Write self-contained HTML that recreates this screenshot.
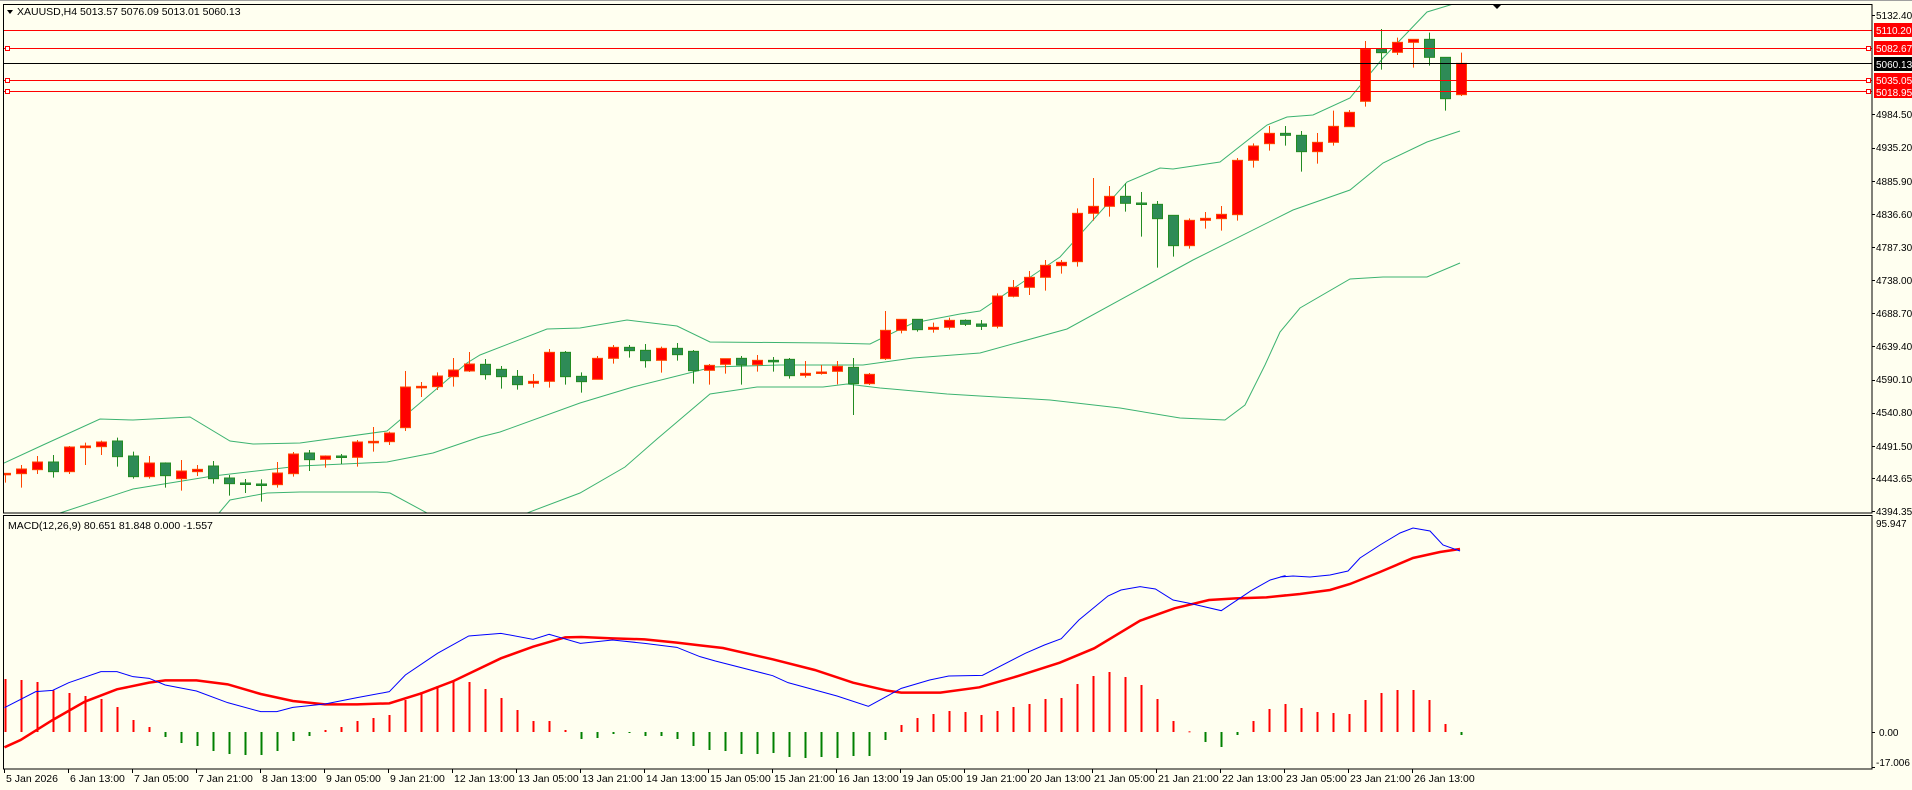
<!DOCTYPE html>
<html><head><meta charset="utf-8">
<style>
html,body{margin:0;padding:0;background:#fffff0;}
body{width:1912px;height:790px;overflow:hidden;position:relative;font-family:"Liberation Sans",sans-serif;}
svg{position:absolute;left:0;top:0;}
text{font-family:"Liberation Sans",sans-serif;font-size:10.5px;fill:#000;}
.ax{font-size:10px;}
</style></head><body>
<svg id="s" width="1912" height="790" viewBox="0 0 1912 790" xmlns="http://www.w3.org/2000/svg">
<rect x="0" y="0" width="1912" height="790" fill="#fffff0"/>
<line x1="0" y1="0.5" x2="1912" y2="0.5" stroke="#a0a0a0" stroke-width="1"/>
<g id="plot"></g>
<line x1="4" y1="30.5" x2="1872" y2="30.5" stroke="#ff0000" stroke-width="1"/>
<line x1="4" y1="48.5" x2="1872" y2="48.5" stroke="#ff0000" stroke-width="1"/>
<line x1="4" y1="63.5" x2="1872" y2="63.5" stroke="#000" stroke-width="1"/>
<line x1="4" y1="80.5" x2="1872" y2="80.5" stroke="#ff0000" stroke-width="1"/>
<line x1="4" y1="91.5" x2="1872" y2="91.5" stroke="#ff0000" stroke-width="1"/>
<g fill="#fff" stroke="#ff0000" stroke-width="1">
<rect x="5.5" y="46.5" width="4" height="4"/><rect x="5.5" y="78.5" width="4" height="4"/><rect x="5.5" y="89.5" width="4" height="4"/>
<rect x="1866.5" y="46.5" width="4" height="4"/><rect x="1866.5" y="78.5" width="4" height="4"/><rect x="1866.5" y="89.5" width="4" height="4"/>
</g>
<rect x="3.5" y="4.5" width="1868.5" height="508.5" fill="none" stroke="#000" stroke-width="1"/>
<rect x="3.5" y="515.5" width="1868.5" height="253.5" fill="none" stroke="#000" stroke-width="1"/>
<polygon points="1492,4 1502,4 1497,9" fill="#000"/>
<polygon points="7,10 13,10 10,14" fill="#000"/>
<text x="17" y="15">XAUUSD,H4  5013.57 5076.09 5013.01 5060.13</text>
<text x="8" y="529">MACD(12,26,9) 80.651 81.848 0.000 -1.557</text>
<g stroke="#000" stroke-width="1" id="ticks"></g>
<g class="ax">
<text class="ax" x="1876" y="19">5132.40</text>
<text class="ax" x="1876" y="118">4984.50</text>
<text class="ax" x="1876" y="151">4935.20</text>
<text class="ax" x="1876" y="185">4885.90</text>
<text class="ax" x="1876" y="218">4836.60</text>
<text class="ax" x="1876" y="251">4787.30</text>
<text class="ax" x="1876" y="284">4738.00</text>
<text class="ax" x="1876" y="317">4688.70</text>
<text class="ax" x="1876" y="350">4639.40</text>
<text class="ax" x="1876" y="383">4590.10</text>
<text class="ax" x="1876" y="416">4540.80</text>
<text class="ax" x="1876" y="450">4491.50</text>
<text class="ax" x="1876" y="482">4443.65</text>
<text class="ax" x="1876" y="515">4394.35</text>
</g>
<rect x="1874" y="23" width="38" height="14" fill="#ff0000"/><text class="ax" x="1876" y="34" style="fill:#fff">5110.20</text>
<rect x="1874" y="41" width="38" height="14" fill="#ff0000"/><text class="ax" x="1876" y="52" style="fill:#fff">5082.67</text>
<rect x="1874" y="57" width="38" height="14" fill="#000"/><text class="ax" x="1876" y="68" style="fill:#fff">5060.13</text>
<rect x="1874" y="73" width="38" height="13" fill="#ff0000"/><text class="ax" x="1876" y="84" style="fill:#fff">5035.05</text>
<rect x="1874" y="86" width="38" height="12" fill="#ff0000"/><text class="ax" x="1876" y="96" style="fill:#fff">5018.95</text>
<text class="ax" x="1876" y="527">95.947</text>
<text class="ax" x="1879" y="736">0.00</text>
<text class="ax" x="1876" y="766">-17.006</text>
<g id="tl">
<text x="6" y="782">5 Jan 2026</text>
<text x="70" y="782">6 Jan 13:00</text>
<text x="134" y="782">7 Jan 05:00</text>
<text x="198" y="782">7 Jan 21:00</text>
<text x="262" y="782">8 Jan 13:00</text>
<text x="326" y="782">9 Jan 05:00</text>
<text x="390" y="782">9 Jan 21:00</text>
<text x="454" y="782">12 Jan 13:00</text>
<text x="518" y="782">13 Jan 05:00</text>
<text x="582" y="782">13 Jan 21:00</text>
<text x="646" y="782">14 Jan 13:00</text>
<text x="710" y="782">15 Jan 05:00</text>
<text x="774" y="782">15 Jan 21:00</text>
<text x="838" y="782">16 Jan 13:00</text>
<text x="902" y="782">19 Jan 05:00</text>
<text x="966" y="782">19 Jan 21:00</text>
<text x="1030" y="782">20 Jan 13:00</text>
<text x="1094" y="782">21 Jan 05:00</text>
<text x="1158" y="782">21 Jan 21:00</text>
<text x="1222" y="782">22 Jan 13:00</text>
<text x="1286" y="782">23 Jan 05:00</text>
<text x="1350" y="782">23 Jan 21:00</text>
<text x="1414" y="782">26 Jan 13:00</text>
</g>
</svg>
<script>
(function(){
var NS="http://www.w3.org/2000/svg",P=document.getElementById("plot"),T=document.getElementById("ticks");
function el(n,a,p){var e=document.createElementNS(NS,n);for(var k in a)e.setAttribute(k,a[k]);(p||P).appendChild(e);return e;}
[15,114,148,181,214,247,280,313,346,380,413,446,478,511,732,767].forEach(function(y){el("line",{x1:1872,y1:y+.5,x2:1875,y2:y+.5},T);});
for(var k=0;k<23;k++){var x=4+64*k+.5;el("line",{x1:x,y1:769,x2:x,y2:773},T);}
function poly(pts,col,w,clip){el("polyline",{points:pts.map(function(p){return p[0]+","+p[1]}).join(" "),fill:"none",stroke:col,"stroke-width":w,"clip-path":clip||""});}
var defs=el("defs",{});var cp=el("clipPath",{id:"cm"},defs);el("rect",{x:4,y:5,width:1868,height:508},cp);
var cp2=el("clipPath",{id:"cd"},defs);el("rect",{x:4,y:516,width:1868,height:253},cp2);
var up=[[4,463],[43,445],[100,419],[133,420],[190,417],[230,441],[253,444],[300,443],[387,431],[420,403],[467,363],[480,355],[547,329],[580,328],[627,320],[677,326],[710,342],[830,343],[870,344],[913,323],[960,314],[980,311],[1060,257],[1127,182],[1160,168],[1173,169],[1220,162],[1267,125],[1287,117],[1313,115],[1350,98],[1383,58],[1427,12],[1450,5],[1460,2]];
var mid=[[40,522],[60,513],[133,489],[213,476],[300,466],[387,462],[433,453],[480,437],[500,432],[580,403],[633,387],[713,367],[780,365],[863,365],[913,358],[980,353],[1067,329],[1193,260],[1293,210],[1350,190],[1383,163],[1427,142],[1460,131]];
var lo1=[[205,522],[219,513],[230,500],[267,493],[300,492],[377,492],[390,493],[427,513],[440,522]];
var lo2=[[517,522],[527,513],[580,493],[625,467],[657,439],[710,394],[757,387],[823,387],[847,384],[880,388],[947,394],[980,396],[1050,400],[1120,408],[1180,418],[1225,420],[1245,405],[1265,365],[1280,332],[1300,308],[1350,279],[1383,277],[1427,277],[1460,263]];
[up,mid,lo1,lo2].forEach(function(a){poly(a,"#3cb371",1,"url(#cm)");});
var g1=[["R",460,462,460,488],["R",447,461,435,503],["R",426,449,408,462],["G",426,455,405,473],["R",381,455,378,462],["R",378,383,368,435],["R",366,380,362,405],["G",363,410,353,440],["G",408,470,395,476],["R",429,470,408,476],["G",429,467,427,503],["R",453,476,420,512],["R",448,455,435,468],["G",438,476,423,491],["G",474,491,465,527],["G",489,493,477,519],["G",492,494,478,545],["R",459,494,426,503],["R",402,461,396,470],["G",399,419,390,453],["R",408,418,406,443],["G",408,412,402,432],["R",366,412,360,440],["R",364,368,321,395],["R",339,365,335,375],["R",201,323,153,333],["R",199,203,186,231],["R",168,200,157,210],["R",150,170,114,200],["R",132,153,96,156]];
var g2=[["G",673,704,657,719],["G",688,710,678,746],["G",709,734,690,749],["R",724,730,702,743],["R",637,724,627,743],["G",637,710,633,734],["G",709,725,697,758],["R",655,718,648,718],["R",622,655,615,671],["G",622,632,615,653],["G",631,662,612,683],["R",625,661,620,698],["G",625,644,609,662],["G",634,692,630,731],["R",676,691,672,734],["R",656,673,656,701],["G",655,675,648,734],["R",661,674,645,695],["G",661,665,651,695],["G",658,707,654,716],["R",700,706,663,713],["R",696,700,675,704],["R",679,694,663,733],["G",682,731,654,825],["R",703,731,699,735],["R",571,656,513,660],["R",538,571,538,580],["G",538,569,538,575],["R",562,568,548,578],["R",541,562,533,569]];
var g3=[["G",961,973,958,978],["G",972,979,960,990],["R",888,979,880,985],["R",862,889,840,892],["R",832,862,813,885],["R",796,832,780,872],["R",787,797,780,821],["R",640,785,625,800],["R",619,640,534,662],["R",589,619,558,650],["G",589,610,550,635],["G",609,613,576,710],["G",613,656,603,803],["G",646,737,646,770],["R",661,737,655,746],["R",655,661,636,686],["R",643,656,618,692],["R",481,644,474,662],["R",438,481,430,503],["R",400,431,378,452],["G",400,406,378,437],["G",406,455,393,515],["R",427,455,399,491],["R",379,427,332,437],["R",337,380,330,380],["R",147,304,123,320],["G",147,158,87,209],["R",127,157,113,165],["R",118,127,118,203],["G",118,172,98,197],["G",172,296,172,332],["R",190,284,158,288]];
function draw(arr,start,off){arr.forEach(function(c,i){var idx=start+i,x=5+16*idx;var t=off+c[1]/3,b=off+c[2]/3,h=off+c[3]/3,l=off+c[4]/3;
 var red=c[0]=="R";var wc=red?"#ff4500":"#228b22";
 el("line",{x1:x+.5,y1:h,x2:x+.5,y2:l,stroke:wc,"stroke-width":1,"clip-path":"url(#cm)"});
 var hh=Math.max(b-t,1.5);
 el("rect",{x:x-4.5,y:t,width:10,height:hh,fill:red?"#ff0000":"#2e8b57",stroke:wc,"stroke-width":1,"clip-path":"url(#cm)"});
});}
draw(g1,0,320);draw(g2,30,140);draw(g3,60,0);
var hz2=[477,480,486,511,519,528,537,561,600,621,651,669,678,693,702,705,705,693,663,648,630,621,603,594,585,540,516,498,483,486,507,534,570,603,603,630,657,654,642,639,648,648,657,678];
var hz5=[690,693,702,702,699,711,714,711,714,708,708,660,615,594,582,573,576,585,573,561,552,537,534,492,468,456,471,495,537,603,634,666,681,645,603,567,552];
var hv=hz2.concat(hz5).map(function(v){return 520+v/3;});
hv=hv.concat([708,712,713,714,700,693,690,690,700,724,735]);
hv.forEach(function(y,i){var x=5+16*i;var pos=y<731.5;var top=pos?y:732,bot=pos?732:y;if(Math.abs(bot-top)<1){bot=top+1;}
 el("rect",{x:x-0.5,y:top,width:2,height:bot-top,fill:pos?"#ff0000":"#008000"});});
function z2(a){return a.map(function(p){return [p[0]/2.24,520+p[1]/3];});}
function z5(a){return a.map(function(p){return [700+p[0]/2.613,520+p[1]/3];});}
var blue=z2([[10,563],[80,515],[118,511],[154,488],[226,455],[262,455],[298,470],[334,475],[370,495],[440,513],[510,548],[584,575],[620,575],[656,562],[728,552],[800,533],[872,515],[908,465],[980,400],[1050,348],[1122,340],[1194,358],[1230,343],[1300,370],[1372,360],[1444,370],[1516,382]]).concat(z5([[0,410],[40,423],[190,467],[230,488],[358,528],[440,559],[526,505],[600,480],[650,468],[738,466],[850,400],[900,375],[944,356],[990,300],[1066,228],[1100,210],[1150,200],[1190,207],[1236,240],[1280,250],[1362,272],[1440,212],[1490,180],[1530,167]])).concat([[1280,577],[1293,576],[1310,577],[1330,575],[1348,571],[1360,558],[1380,545],[1400,533],[1413,528],[1430,531],[1443,545],[1460,551]]);
var red=z2([[10,682],[46,660],[118,600],[190,545],[262,508],[334,488],[370,481],[440,481],[510,493],[584,522],[656,543],[728,553],[800,553],[872,550],[944,520],[1016,483],[1122,415],[1194,380],[1266,352],[1302,351],[1372,355],[1444,358],[1516,368]]).concat(z5([[0,376],[60,384],[190,418],[300,450],[400,488],[490,512],[526,518],[628,518],[730,502],[820,472],[940,428],[1030,385],[1150,302],[1240,265],[1330,240],[1400,235],[1480,232],[1530,226]])).concat([[1280,596],[1300,594],[1330,590],[1350,584],[1380,572],[1413,558],[1440,552],[1460,549]]);
poly(red,"#ff0000",2.5,"url(#cd)");
poly(blue,"#0000ff",1,"url(#cd)");
})();
</script>
</body></html>
